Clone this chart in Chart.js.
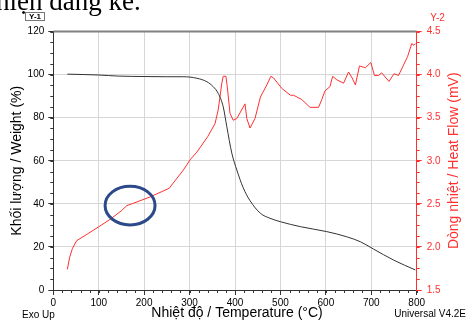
<!DOCTYPE html>
<html>
<head>
<meta charset="utf-8">
<script src="https://cdn.jsdelivr.net/npm/chart.js@4.4.1/dist/chart.umd.min.js"></script>
<style>
  html, body { margin: 0; padding: 0; background: #fff; overflow: hidden; }
  canvas { display: block; }
</style>
</head>
<body>
<canvas id="tga" width="467" height="320"></canvas>
<script>
// weight loss curve (TGA)
const weightTemps = [31, 100, 143, 200, 250, 286, 316, 338, 352, 363, 374, 382, 393, 404, 418, 433, 456, 477, 500, 544, 602, 646, 676, 705, 749, 797];
const weightValues = [100.2, 99.8, 99.3, 99.1, 99.0, 99.0, 98.3, 96.7, 94.4, 91.3, 85.1, 75.8, 63.5, 55.7, 47.5, 41.5, 35.6, 33.3, 31.7, 29.4, 27.1, 24.7, 22.4, 19.0, 13.9, 9.3];

// heat flow curve (DTA)
const flowTemps = [31, 36, 42, 51, 75, 99, 125, 150, 162, 173, 213, 255, 286, 301, 316, 340, 356, 363, 371, 374, 380, 383, 389, 396, 404, 422, 426, 433, 444, 456, 470, 479, 485, 503, 522, 529, 547, 565, 584, 591, 598, 609, 615, 624, 639, 650, 658, 665, 674, 687, 699, 707, 716, 723, 739, 750, 760, 771, 780, 789, 794, 797];
const flowValues = [1.74, 1.88, 1.98, 2.07, 2.15, 2.23, 2.32, 2.42, 2.48, 2.50, 2.58, 2.68, 2.89, 3.01, 3.10, 3.28, 3.43, 3.59, 3.90, 3.98, 3.98, 3.86, 3.55, 3.47, 3.49, 3.66, 3.49, 3.38, 3.49, 3.74, 3.88, 3.98, 3.96, 3.84, 3.76, 3.76, 3.71, 3.62, 3.62, 3.71, 3.81, 3.86, 3.98, 3.94, 3.90, 4.03, 3.96, 3.88, 4.10, 4.08, 4.14, 3.99, 3.99, 4.02, 3.92, 4.01, 3.99, 4.11, 4.21, 4.36, 4.34, 4.36];

// circled region on the heat flow curve
const markCenter = [169, 2.48];
const markRadius = [55, 0.225];

const RED = '#ff3030';
const FONT = '"Liberation Sans", Arial, sans-serif';

function toPoints(xs, ys) {
  return xs.map((x, i) => ({ x: x, y: ys[i] }));
}

function minorTicks(ctx, scale, step, horizontal, color) {
  ctx.save();
  ctx.strokeStyle = color;
  ctx.lineWidth = 1;
  ctx.beginPath();
  for (let v = scale.min; v <= scale.max + 1e-9; v += step) {
    const p = Math.round(scale.getPixelForValue(v)) + 0.5;
    if (horizontal) {
      ctx.moveTo(p, scale.top);
      ctx.lineTo(p, scale.top + 3);
    } else if (scale.position === 'left') {
      ctx.moveTo(scale.right, p);
      ctx.lineTo(scale.right - 3, p);
    } else {
      ctx.moveTo(scale.left, p);
      ctx.lineTo(scale.left + 3, p);
    }
  }
  ctx.stroke();
  ctx.restore();
}

const decor = {
  id: 'decor',
  afterDraw(chart) {
    const ctx = chart.ctx;
    const area = chart.chartArea;
    const sx = chart.scales.x, sy = chart.scales.y, sy2 = chart.scales.y2;

    // top frame
    ctx.save();
    ctx.strokeStyle = '#808080';
    ctx.lineWidth = 2;
    ctx.beginPath();
    ctx.moveTo(area.left, area.top);
    ctx.lineTo(area.right, area.top);
    ctx.stroke();
    ctx.restore();

    minorTicks(ctx, sx, 20, true, '#333');
    minorTicks(ctx, sy, 5, false, '#333');
    minorTicks(ctx, sy2, 0.125, false, RED);

    // circle annotation
    const cx = sx.getPixelForValue(markCenter[0]);
    const cy = sy2.getPixelForValue(markCenter[1]);
    const rx = sx.getPixelForValue(markCenter[0] + markRadius[0]) - cx;
    const ry = cy - sy2.getPixelForValue(markCenter[1] + markRadius[1]);
    ctx.save();
    ctx.strokeStyle = '#2c4a8a';
    ctx.lineWidth = 3;
    ctx.beginPath();
    ctx.ellipse(cx, cy, rx, ry, 0, 0, Math.PI * 2);
    ctx.stroke();
    ctx.restore();

    // text
    ctx.save();
    ctx.fillStyle = '#000';
    ctx.font = '27px "Liberation Serif", "Times New Roman", serif';
    ctx.textBaseline = 'alphabetic';
    ctx.textAlign = 'left';
    ctx.fillText('hiện đang kê.', -4, 10);

    ctx.font = '14px ' + FONT;
    ctx.textAlign = 'center';
    ctx.textBaseline = 'middle';
    ctx.fillText('Nhiệt độ / Temperature (\u00b0C)', (area.left + area.right) / 2 + 2, 313);

    ctx.save();
    ctx.translate(17, (area.top + area.bottom) / 2);
    ctx.rotate(-Math.PI / 2);
    ctx.fillText('Khối lượng / Weight (%)', 0, 0);
    ctx.restore();

    ctx.save();
    ctx.fillStyle = RED;
    ctx.translate(454, (area.top + area.bottom) / 2);
    ctx.rotate(-Math.PI / 2);
    ctx.fillText('Dòng nhiệt / Heat Flow (mV)', 0, 0);
    ctx.restore();

    ctx.font = '10px ' + FONT;
    ctx.textAlign = 'left';
    ctx.fillText('Exo Up', 22, 315);
    ctx.textAlign = 'right';
    ctx.fillText('Universal V4.2E', 466, 314);

    ctx.fillStyle = RED;
    ctx.textAlign = 'center';
    ctx.fillText('Y-2', 437.5, 18);

    // Y-1 tag
    ctx.fillStyle = '#fff';
    ctx.fillRect(25.5, 12.5, 19, 8);
    ctx.strokeStyle = '#777';
    ctx.lineWidth = 1;
    ctx.strokeRect(25.5, 12.5, 19, 8);
    ctx.fillStyle = '#000';
    ctx.font = 'bold 8px ' + FONT;
    ctx.fillText('Y-1', 35, 16.8);
    ctx.restore();
  }
};

const gridColor = (edge) => (c) => edge.includes(c.tick.value) ? 'rgba(0,0,0,0)' : '#d6d6d6';

new Chart(document.getElementById('tga'), {
  type: 'line',
  data: {
    datasets: [
      {
        label: 'Weight',
        data: toPoints(weightTemps, weightValues),
        yAxisID: 'y',
        borderColor: '#333',
        borderWidth: 1,
        pointRadius: 0,
        cubicInterpolationMode: 'monotone'
      },
      {
        label: 'Heat Flow',
        data: toPoints(flowTemps, flowValues),
        yAxisID: 'y2',
        borderColor: RED,
        borderWidth: 1,
        pointRadius: 0,
        tension: 0
      }
    ]
  },
  options: {
    responsive: false,
    animation: false,
    layout: { padding: { top: 31.5, left: 0, right: 0, bottom: 0 } },
    plugins: { legend: { display: false }, tooltip: { enabled: false } },
    scales: {
      x: {
        type: 'linear',
        min: 0,
        max: 800,
        afterFit: (s) => { s.height = 30; },
        ticks: { stepSize: 100, maxRotation: 0, padding: 2, color: '#000', font: { family: FONT, size: 10 } },
        grid: { color: gridColor([0, 800]), tickColor: '#333', tickLength: 5 },
        border: { color: '#333' }
      },
      y: {
        position: 'left',
        min: 0,
        max: 120,
        afterFit: (s) => { s.width = 53.3; },
        ticks: { stepSize: 20, padding: 4, color: '#000', font: { family: FONT, size: 10 } },
        grid: { color: gridColor([0, 120]), tickColor: '#333', tickLength: 5 },
        border: { color: '#333' }
      },
      y2: {
        position: 'right',
        min: 1.5,
        max: 4.5,
        afterFit: (s) => { s.width = 50.3; },
        ticks: { stepSize: 0.5, padding: 5, color: RED, font: { family: FONT, size: 10 }, callback: (v) => v.toFixed(1) },
        grid: { drawOnChartArea: false, tickColor: RED, tickLength: 5 },
        border: { color: RED }
      }
    }
  },
  plugins: [decor]
});
</script>
</body>
</html>
